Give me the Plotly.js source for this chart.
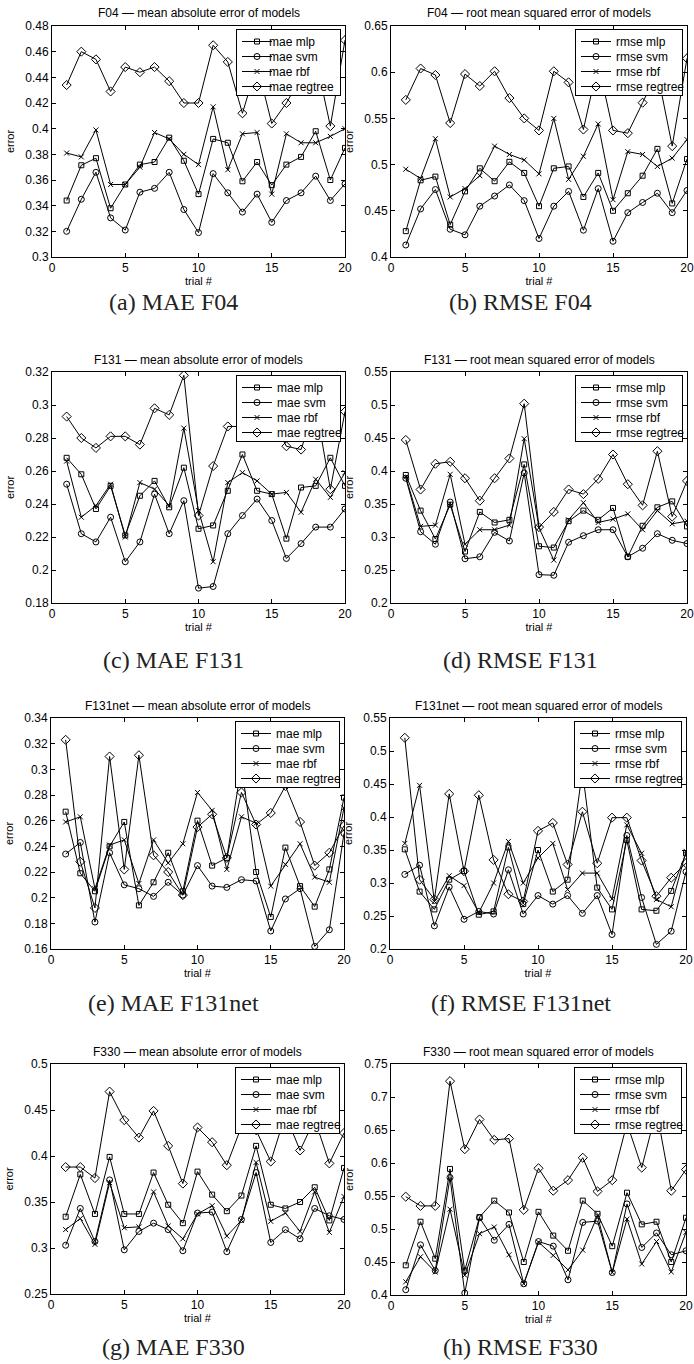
<!DOCTYPE html>
<html>
<head>
<meta charset="utf-8">
<script src="https://cdn.plot.ly/plotly-3.0.1.min.js"></script>
<style>
  html, body { margin: 0; padding: 0; background: #fff; }
  #chart { width: 694px; height: 1364px; }
</style>
</head>
<body>
<div id="chart"></div>
<script>
// ---------- data ----------
const trials = [1,2,3,4,5,6,7,8,9,10,11,12,13,14,15,16,17,18,19,20];
const modelNames = ['mlp', 'svm', 'rbf', 'regtree'];

// (a) F04 MAE
const maeF04Mlp     = [0.344,0.3715,0.377,0.338,0.3565,0.372,0.374,0.393,0.375,0.349,0.392,0.389,0.359,0.374,0.356,0.372,0.378,0.398,0.360,0.385];
const maeF04Svm     = [0.320,0.345,0.366,0.3305,0.321,0.3505,0.3535,0.366,0.337,0.319,0.365,0.350,0.335,0.349,0.327,0.344,0.350,0.363,0.344,0.357];
const maeF04Rbf     = [0.381,0.378,0.399,0.3565,0.3565,0.370,0.397,0.392,0.380,0.372,0.417,0.368,0.396,0.397,0.349,0.396,0.389,0.389,0.394,0.400];
const maeF04Regtree = [0.434,0.460,0.454,0.429,0.448,0.444,0.448,0.437,0.420,0.420,0.465,0.452,0.412,0.450,0.404,0.420,0.440,0.455,0.402,0.469];
// (b) F04 RMSE
const rmseF04Mlp     = [0.428,0.483,0.487,0.435,0.471,0.496,0.482,0.503,0.491,0.455,0.496,0.498,0.465,0.491,0.450,0.469,0.488,0.517,0.458,0.506];
const rmseF04Svm     = [0.413,0.452,0.473,0.430,0.424,0.455,0.466,0.478,0.461,0.420,0.455,0.471,0.429,0.474,0.417,0.448,0.459,0.469,0.448,0.472];
const rmseF04Rbf     = [0.495,0.485,0.528,0.465,0.474,0.488,0.520,0.511,0.505,0.490,0.550,0.484,0.509,0.544,0.462,0.514,0.511,0.498,0.507,0.527];
const rmseF04Regtree = [0.570,0.604,0.597,0.545,0.598,0.585,0.601,0.572,0.550,0.537,0.601,0.589,0.538,0.610,0.537,0.534,0.567,0.600,0.520,0.615];
// (c) F131 MAE
const maeF131Mlp     = [0.268,0.258,0.237,0.251,0.221,0.245,0.254,0.238,0.262,0.225,0.227,0.248,0.270,0.248,0.246,0.219,0.250,0.251,0.268,0.251];
const maeF131Svm     = [0.252,0.222,0.217,0.232,0.205,0.217,0.246,0.222,0.242,0.189,0.190,0.222,0.233,0.243,0.230,0.207,0.216,0.226,0.226,0.237];
const maeF131Rbf     = [0.266,0.232,0.239,0.252,0.220,0.253,0.249,0.239,0.286,0.236,0.205,0.253,0.259,0.254,0.246,0.247,0.235,0.255,0.244,0.259];
const maeF131Regtree = [0.293,0.280,0.274,0.281,0.281,0.276,0.298,0.294,0.318,0.233,0.263,0.287,0.287,0.290,0.292,0.275,0.273,0.300,0.249,0.296];
// (d) F131 RMSE
const rmseF131Mlp     = [0.394,0.340,0.297,0.349,0.278,0.338,0.322,0.326,0.410,0.286,0.284,0.324,0.340,0.326,0.344,0.270,0.317,0.345,0.354,0.316];
const rmseF131Svm     = [0.389,0.308,0.289,0.353,0.267,0.270,0.307,0.294,0.397,0.243,0.242,0.292,0.302,0.311,0.311,0.270,0.283,0.305,0.295,0.290];
const rmseF131Rbf     = [0.391,0.316,0.318,0.395,0.289,0.311,0.311,0.318,0.449,0.314,0.265,0.326,0.352,0.322,0.327,0.335,0.311,0.340,0.320,0.324];
const rmseF131Regtree = [0.447,0.372,0.411,0.414,0.389,0.355,0.389,0.419,0.502,0.315,0.338,0.372,0.365,0.388,0.425,0.380,0.348,0.430,0.331,0.385];
// (e) F131net MAE
const maeF131netMlp     = [0.267,0.219,0.205,0.240,0.259,0.194,0.212,0.235,0.205,0.260,0.225,0.231,0.303,0.220,0.185,0.239,0.209,0.193,0.222,0.278];
const maeF131netSvm     = [0.234,0.243,0.181,0.235,0.210,0.207,0.201,0.212,0.202,0.225,0.209,0.208,0.214,0.213,0.174,0.199,0.207,0.162,0.175,0.250];
const maeF131netRbf     = [0.259,0.263,0.207,0.241,0.245,0.211,0.245,0.227,0.242,0.282,0.268,0.222,0.263,0.258,0.209,0.226,0.242,0.216,0.212,0.270];
const maeF131netRegtree = [0.323,0.228,0.192,0.310,0.222,0.311,0.233,0.220,0.202,0.255,0.265,0.231,0.282,0.257,0.266,0.287,0.259,0.225,0.235,0.256];
// (f) F131net RMSE
const rmseF131netMlp     = [0.351,0.287,0.260,0.305,0.318,0.252,0.257,0.354,0.268,0.350,0.287,0.305,0.470,0.293,0.260,0.365,0.260,0.258,0.288,0.345];
const rmseF131netSvm     = [0.313,0.327,0.235,0.294,0.245,0.257,0.253,0.320,0.253,0.281,0.268,0.281,0.254,0.281,0.222,0.372,0.278,0.207,0.227,0.317];
const rmseF131netRbf     = [0.360,0.448,0.272,0.311,0.296,0.255,0.300,0.363,0.300,0.338,0.360,0.290,0.315,0.315,0.276,0.388,0.345,0.275,0.264,0.348];
const rmseF131netRegtree = [0.520,0.305,0.275,0.435,0.318,0.433,0.335,0.283,0.272,0.379,0.391,0.328,0.408,0.330,0.399,0.399,0.334,0.280,0.308,0.330];
// (g) F330 MAE
const maeF330Mlp     = [0.334,0.380,0.337,0.399,0.337,0.337,0.382,0.347,0.327,0.383,0.358,0.340,0.357,0.411,0.347,0.343,0.350,0.366,0.330,0.387];
const maeF330Svm     = [0.303,0.343,0.307,0.374,0.298,0.318,0.327,0.320,0.297,0.338,0.339,0.296,0.331,0.382,0.306,0.320,0.310,0.343,0.335,0.331];
const maeF330Rbf     = [0.320,0.332,0.304,0.371,0.322,0.323,0.361,0.324,0.310,0.337,0.346,0.313,0.330,0.393,0.329,0.338,0.318,0.361,0.317,0.356];
const maeF330Regtree = [0.388,0.388,0.376,0.470,0.439,0.420,0.449,0.411,0.370,0.431,0.415,0.390,0.432,0.428,0.394,0.445,0.406,0.440,0.392,0.425];
// (h) F330 RMSE
const rmseF330Mlp     = [0.445,0.511,0.455,0.591,0.437,0.518,0.543,0.525,0.450,0.526,0.490,0.467,0.543,0.523,0.474,0.555,0.507,0.511,0.450,0.517];
const rmseF330Svm     = [0.408,0.476,0.437,0.578,0.403,0.517,0.483,0.507,0.417,0.481,0.474,0.423,0.510,0.512,0.434,0.538,0.472,0.494,0.461,0.467];
const rmseF330Rbf     = [0.420,0.458,0.435,0.530,0.430,0.493,0.503,0.461,0.417,0.480,0.460,0.438,0.468,0.520,0.434,0.515,0.447,0.481,0.435,0.495];
const rmseF330Regtree = [0.549,0.535,0.535,0.724,0.621,0.666,0.635,0.637,0.529,0.592,0.558,0.574,0.608,0.557,0.574,0.660,0.593,0.680,0.558,0.590];

// axis ranges / ticks per panel
const yRanges = [[0.3,0.48],[0.4,0.65],[0.18,0.32],[0.2,0.55],[0.16,0.34],[0.2,0.55],[0.25,0.5],[0.4,0.75]];
const yDticks = [0.02,0.05,0.02,0.05,0.02,0.05,0.05,0.05];
const datasetNames = ['F04','F04','F131','F131','F131net','F131net','F330','F330'];
const metricNames = ['mae','rmse','mae','rmse','mae','rmse','mae','rmse'];
const captions = ['(a) MAE F04','(b) RMSE F04','(c) MAE F131','(d) RMSE F131','(e) MAE F131net','(f) RMSE F131net','(g) MAE F330','(h) RMSE F330'];

const panelSeries = [
  [maeF04Mlp, maeF04Svm, maeF04Rbf, maeF04Regtree],
  [rmseF04Mlp, rmseF04Svm, rmseF04Rbf, rmseF04Regtree],
  [maeF131Mlp, maeF131Svm, maeF131Rbf, maeF131Regtree],
  [rmseF131Mlp, rmseF131Svm, rmseF131Rbf, rmseF131Regtree],
  [maeF131netMlp, maeF131netSvm, maeF131netRbf, maeF131netRegtree],
  [rmseF131netMlp, rmseF131netSvm, rmseF131netRbf, rmseF131netRegtree],
  [maeF330Mlp, maeF330Svm, maeF330Rbf, maeF330Regtree],
  [rmseF330Mlp, rmseF330Svm, rmseF330Rbf, rmseF330Regtree]
];

// ---------- layout geometry (pixels) ----------
const W = 694, H = 1364;
const boxes = [ // [left, right, top, bottom]
  [52,345,26,257],[391,687,26,257],
  [52,345,372,603],[391,687,372,603],
  [51,344,718,949],[390,686,718,949],
  [51,344,1064,1294],[391,686,1064,1295]
];
const captionY = [302,302,660,660,1003,1003,1347,1347];
const colCenters = [173.5,520.5];

const markerStyles = [
  {symbol:'square-open', size:5},
  {symbol:'circle-open', size:6},
  {symbol:'x-thin-open', size:5},
  {symbol:'diamond-open', size:7}
];

const sansFont = 'Liberation Sans, Arial, Helvetica, sans-serif';
const px = v => v / W;
const py = v => 1 - v / H;

const traces = [];
const legendIds = [];
const layout = {
  width: W, height: H,
  margin: {l:0, r:0, t:0, b:0},
  paper_bgcolor: '#fff', plot_bgcolor: '#fff',
  font: {family: sansFont, color: '#000', size: 12},
  showlegend: true,
  annotations: []
};

panelSeries.forEach((series, p) => {
  const n = p + 1;
  const xa = 'x' + (n === 1 ? '' : n), ya = 'y' + (n === 1 ? '' : n);
  const legendId = 'legend' + (n === 1 ? '' : n);
  legendIds.push(legendId);
  const [l, r, t, b] = boxes[p];
  series.forEach((vals, s) => {
    traces.push({
      x: trials, y: vals,
      xaxis: xa, yaxis: ya,
      type: 'scatter', mode: 'lines+markers',
      name: metricNames[p] + ' ' + modelNames[s],
      legend: legendId,
      line: {color: '#000', width: 1},
      marker: {symbol: markerStyles[s].symbol, size: markerStyles[s].size, color: '#000',
               line: {color: '#000', width: 1}},
      cliponaxis: true
    });
  });
  const axCommon = {
    showline: true, linecolor: '#000', linewidth: 1, mirror: 'allticks',
    ticks: 'inside', ticklen: 4, tickcolor: '#000', tickwidth: 1,
    showgrid: false, zeroline: false,
    tickfont: {family: sansFont, size: 12, color: '#000'},
    fixedrange: true
  };
  layout['xaxis' + (n === 1 ? '' : n)] = Object.assign({}, axCommon, {
    domain: [px(l), px(r)], anchor: ya,
    range: [0, 20], tick0: 0, dtick: 5,
    title: {text: 'trial #', font: {family: sansFont, size: 11}, standoff: 0}
  });
  layout['yaxis' + (n === 1 ? '' : n)] = Object.assign({}, axCommon, {
    domain: [py(b), py(t)], anchor: xa,
    range: yRanges[p], tick0: 0, dtick: yDticks[p],
    title: {text: 'error', font: {family: sansFont, size: 11}, standoff: 8}
  });
  layout[legendId] = {
    x: px(r - 4), y: py(t + 3), xanchor: 'right', yanchor: 'top',
    xref: 'paper', yref: 'paper',
    bgcolor: '#fff', bordercolor: '#000', borderwidth: 1,
    font: {family: sansFont, size: 12, color: '#000'},
    itemwidth: 30, tracegroupgap: 0, traceorder: 'normal'
  };
  const title = datasetNames[p] + ' \u2014 ' +
    (metricNames[p] === 'mae' ? 'mean absolute error of models' : 'root mean squared error of models');
  layout.annotations.push({
    xref: 'paper', yref: 'paper', x: px((l + r) / 2), y: py(t - 12.5),
    xanchor: 'center', yanchor: 'middle', showarrow: false,
    text: title, font: {family: sansFont, size: 12, color: '#000'}
  });
  layout.annotations.push({
    xref: 'paper', yref: 'paper', x: px(colCenters[p % 2]), y: py(captionY[p]),
    xanchor: 'center', yanchor: 'middle', showarrow: false,
    text: captions[p], font: {family: 'Liberation Serif, Times New Roman, serif', size: 24, color: '#222'}
  });
});

// Compact the legends to the MATLAB-style spacing (15px rows, tighter symbol gap)
function compactLegends(gd) {
  const ROW = 15, SHIFT = 8;
  const parse = s => {
    const m = /translate\(\s*([-\d.e]+)[ ,]+([-\d.e]+)\s*\)/.exec(s || '');
    return m ? [parseFloat(m[1]), parseFloat(m[2])] : [0, 0];
  };
  legendIds.forEach(id => {
    const leg = gd.querySelector('g.' + id);
    if (!leg) return;
    const items = Array.from(leg.querySelectorAll('g.traces'));
    if (!items.length) return;
    const y0 = parse(items[0].getAttribute('transform'))[1] - 3;
    items.forEach((it, i) => {
      const [x] = parse(it.getAttribute('transform'));
      it.setAttribute('transform', 'translate(' + x + ',' + (y0 + i * ROW) + ')');
      const txt = it.querySelector('text.legendtext');
      if (txt) txt.setAttribute('x', parseFloat(txt.getAttribute('x')) - SHIFT);
    });
    const bg = leg.querySelector('rect.bg');
    if (bg) {
      const h = y0 + (items.length - 1) * ROW + 8;
      bg.setAttribute('height', h);
      bg.setAttribute('width', parseFloat(bg.getAttribute('width')) - SHIFT);
    }
    const [lx, ly] = parse(leg.getAttribute('transform'));
    leg.setAttribute('transform', 'translate(' + (lx + SHIFT) + ',' + ly + ')');
  });
}

Plotly.newPlot('chart', traces, layout, {staticPlot: true, displayModeBar: false})
  .then(gd => compactLegends(gd));
</script>
</body>
</html>
